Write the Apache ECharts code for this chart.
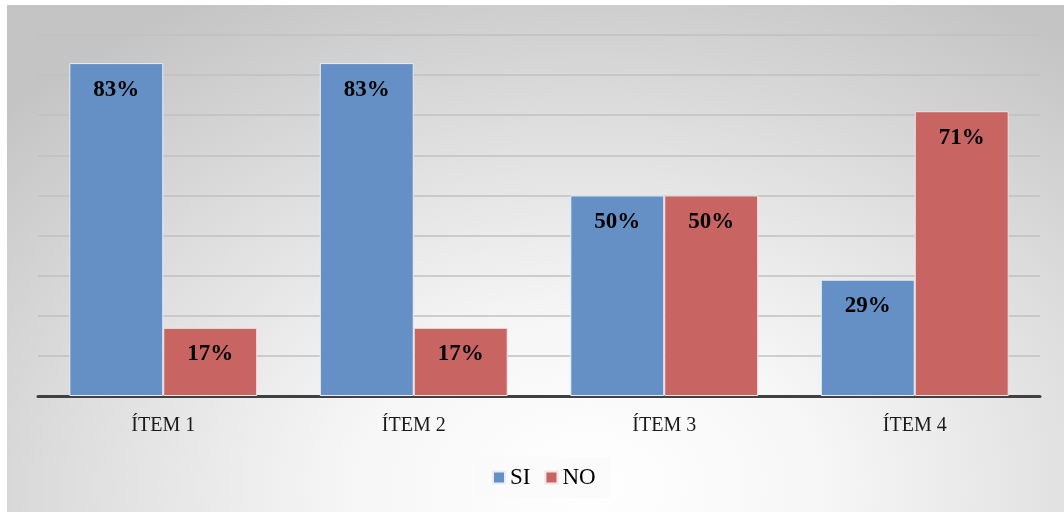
<!DOCTYPE html>
<html><head><meta charset="utf-8">
<script src="https://cdn.jsdelivr.net/npm/echarts@6/dist/echarts.min.js"></script>
<style>
html,body{margin:0;padding:0;background:#fff;}
#c{position:absolute;left:7px;top:5px;width:1057px;height:507px;
  background: radial-gradient(ellipse 75% 110% at 55% 95%, #ffffff 0%, #f6f6f6 30%, #dedede 65%, #c4c4c4 100%);}
</style></head>
<body><div id="c"></div>
<script>
const categories = ['ÍTEM 1','ÍTEM 2','ÍTEM 3','ÍTEM 4'];
const siValues = [0.83, 0.83, 0.50, 0.29];
const noValues = [0.17, 0.17, 0.50, 0.71];
const seriesNames = ['SI','NO'];

const chart = echarts.init(document.getElementById('c'));
const font = '"Liberation Serif","Times New Roman",serif';
const labelCfg = {
  show: true, position: 'insideTop', distance: 15,
  formatter: p => Math.round(p.value*100) + '%',
  fontFamily: font, fontWeight: 'bold', fontSize: 23, color: '#000'
};
chart.setOption({
  backgroundColor: 'transparent',
  animation: false,
  grid: {left: 31, right: 24, top: 30, bottom: 116},
  legend: {
    bottom: 14, left: 470, itemWidth: 12, itemHeight: 12, itemGap: 14,
    icon: 'rect', backgroundColor: 'rgba(250,250,250,0.8)', padding: [9, 15],
    textStyle: {fontFamily: font, fontSize: 23, color: '#000'},
    data: seriesNames
  },
  xAxis: {
    type: 'category', data: categories,
    axisLine: {lineStyle: {color: '#404040', width: 3}},
    axisTick: {show: false},
    axisLabel: {fontFamily: font, fontSize: 20, color: '#1a1a1a', margin: 20}
  },
  yAxis: {
    type: 'value', min: 0, max: 0.9, interval: 0.1,
    axisLabel: {show: false}, axisLine: {show: false}, axisTick: {show: false},
    splitLine: {lineStyle: {color: '#c0c0c0', width: 1.5}}
  },
  series: [
    {name: seriesNames[0], type: 'bar', data: siValues, barGap: '0%', barCategoryGap: '25%',
     itemStyle: {color: '#6590c6', borderColor: '#e8edf5', borderWidth: 1}, label: labelCfg},
    {name: seriesNames[1], type: 'bar', data: noValues,
     itemStyle: {color: '#c86563', borderColor: '#f0e4e4', borderWidth: 1}, label: labelCfg}
  ]
});
</script></body></html>
